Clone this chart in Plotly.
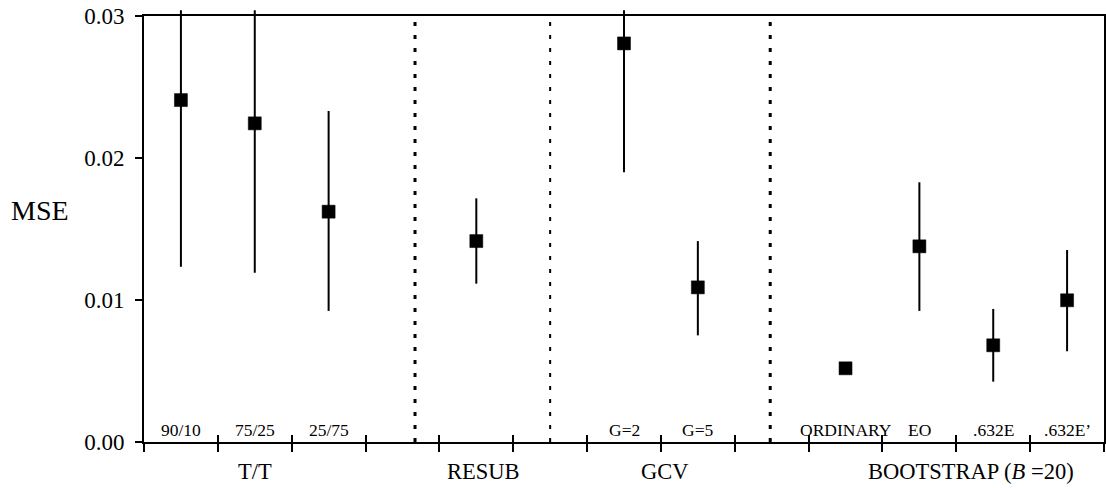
import plotly.graph_objects as go

# ---- data ----
methods = ["90/10", "75/25", "25/75", "RESUB", "G=2", "G=5",
           "ORDINARY", "EO", ".632E", ".632E'"]
method_pos = [0.5, 1.5, 2.5, 4.5, 6.5, 7.5, 9.5, 10.5, 11.5, 12.5]
mse = [0.02408, 0.02244, 0.01622, 0.01415, 0.02807, 0.01089,
       0.00519, 0.01378, 0.00681, 0.00998]
mse_hi = [0.0304, 0.0304, 0.02331, 0.01716, 0.0304, 0.01415,
          0.00519, 0.01829, 0.00937, 0.01352]
mse_lo = [0.01235, 0.01192, 0.00923, 0.01115, 0.01899, 0.00751,
          0.00519, 0.00923, 0.00425, 0.00639]
sub_labels = ["90/10", "75/25", "25/75", "", "G=2", "G=5",
              "ORDINARY", "EO", ".632E", ".632E\u2019"]
groups = ["T/T", "RESUB", "GCV", "BOOTSTRAP (<i>B</i> =20)"]
group_pos = [1.5, 4.6, 7.05, 11.2]
separators = [3.67, 5.5, 8.48]
sep_width = [3, 2, 3]
y_ticks = [0.00, 0.01, 0.02, 0.03]
y_max = 0.03
x_ticks = list(range(0, 14))

FONT = "Liberation Serif, Times New Roman, serif"

# layout geometry: main y axis occupies the lower part of the plot area,
# the error-bar layer gets a few extra pixels above so bars can overshoot.
W, H = 1106, 488
M_T, M_B = 10, 46
plot_h = H - M_T - M_B
main_dom = (plot_h - 6) / plot_h
over_max = y_max / main_dom

err_plus = [h - m for h, m in zip(mse_hi, mse)]
err_minus = [m - l for m, l in zip(mse, mse_lo)]

fig = go.Figure()
# invisible anchor trace for the main subplot
fig.add_trace(go.Scatter(
    x=method_pos, y=mse, mode="markers", xaxis="x", yaxis="y",
    marker=dict(opacity=0), showlegend=False, hoverinfo="skip",
))
# invisible trace on the overlay x axis (inside half of the crossing ticks)
fig.add_trace(go.Scatter(
    x=method_pos, y=mse, mode="markers", xaxis="x2", yaxis="y",
    marker=dict(opacity=0), showlegend=False, hoverinfo="skip",
))
# visible points with error bars (on a same-scale y axis that is a bit taller)
fig.add_trace(go.Scatter(
    x=method_pos, y=mse, mode="markers", xaxis="x", yaxis="y2",
    marker=dict(symbol="square", size=13, color="black",
                line=dict(color="black", width=0.5)),
    error_y=dict(type="data", symmetric=False, array=err_plus,
                 arrayminus=err_minus, width=0, thickness=2, color="black"),
    cliponaxis=False, showlegend=False, hoverinfo="x+y", text=methods,
))

shapes = []
for s, w in zip(separators, sep_width):
    shapes.append(dict(type="line", xref="x", yref="y", x0=s, x1=s,
                       y0=0, y1=y_max, layer="above",
                       line=dict(color="black", width=w, dash="4px,9px")))

annotations = []
for p, t in zip(method_pos, sub_labels):
    if t:
        annotations.append(dict(x=p, y=0, xref="x", yref="y", text=t,
                                showarrow=False, yanchor="middle", yshift=12,
                                font=dict(family=FONT, size=17.5, color="black")))
for p, g in zip(group_pos, groups):
    annotations.append(dict(x=p, y=0, xref="x", yref="paper", text=g,
                            showarrow=False, yanchor="middle", yshift=-29,
                            font=dict(family=FONT, size=22.5, color="black")))
annotations.append(dict(x=0, y=0.01627, xref="paper", yref="y", text="MSE",
                        showarrow=False, xanchor="right", xshift=-73,
                        yanchor="middle",
                        font=dict(family=FONT, size=28, color="black")))

fig.update_layout(
    template="none",
    width=W, height=H,
    margin=dict(l=144, r=2, t=M_T, b=M_B, pad=0, autoexpand=False),
    paper_bgcolor="white", plot_bgcolor="rgba(0,0,0,0)",
    font=dict(family=FONT, color="black"),
    shapes=shapes, annotations=annotations,
    xaxis=dict(range=[0, 13], tickvals=x_ticks, showticklabels=False,
               anchor="y", automargin=False,
               ticks="outside", ticklen=8, tickwidth=2, tickcolor="black",
               showline=True, linewidth=2, linecolor="black", mirror=True,
               showgrid=False, zeroline=False),
    xaxis2=dict(range=[0, 13], tickvals=x_ticks, showticklabels=False,
                overlaying="x", anchor="y", side="bottom", automargin=False,
                ticks="inside", ticklen=7, tickwidth=2, tickcolor="black",
                showline=False, showgrid=False, zeroline=False),
    yaxis=dict(range=[0, y_max], domain=[0, main_dom], tickvals=y_ticks,
               tickformat=".2f", anchor="x", automargin=False,
               ticks="outside", ticklen=7, tickwidth=1.5, tickcolor="black",
               ticklabelstandoff=6,
               showline=True, linewidth=2, linecolor="black", mirror=True,
               showgrid=False, zeroline=False,
               tickfont=dict(family=FONT, size=23, color="black")),
    yaxis2=dict(range=[0, over_max], domain=[0, 1], anchor="x",
                automargin=False,
                visible=False, showgrid=False, zeroline=False),
)

fig.write_html("out.html")
